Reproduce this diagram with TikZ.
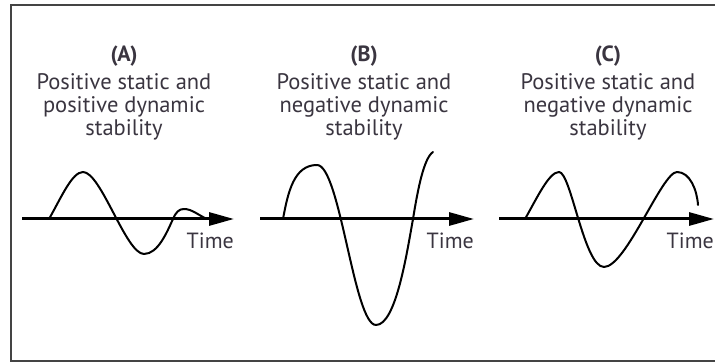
\documentclass[tikz,border=0pt]{standalone}
\usepackage{fontspec}
\setmainfont{PT Sans}
\usetikzlibrary{arrows.meta}
\definecolor{txt}{HTML}{3A3540}
\definecolor{frame}{HTML}{444444}
\tikzset{
  axisline/.style={line width=3pt,-{Triangle[length=25pt,width=13pt]}},
  wave/.style={line width=2pt,line cap=round,line join=round},
  desc/.style={anchor=north,align=center,inner sep=0pt,text=txt,font=\fontsize{22.5}{23}\selectfont},
  tag/.style={anchor=base,inner sep=0pt,text=txt,font=\fontsize{22}{23}\selectfont\bfseries},
  timelbl/.style={anchor=base east,inner sep=0pt,text=txt,font=\fontsize{22}{23}\selectfont}
}
\begin{document}
\begin{tikzpicture}[x=1pt,y=-1pt]
\useasboundingbox (0,0) rectangle (715,363);
\clip (0,0) rectangle (715,363);
\draw[frame,line width=2pt] (720,5) -- (11,5) -- (11,361) -- (720,361);

% Panel A
\node[tag] (tA) at (124,62) {(A)};
\node[desc] (dA) at (124,73) {Positive static and\\positive dynamic\\stability};
\coordinate (a0) at (22,219);
\coordinate (a1) at (234,219);
\draw[axisline] (a0) -- (a1);
\node[timelbl] (timeA) at (234,249) {Time};
\draw[wave] (49,219) .. controls (61,198) and (72,172) .. (83,172)
  .. controls (101,172) and (126,254) .. (144,254)
  .. controls (158,254) and (167,232) .. (173,219)
  .. controls (176,212) and (179,209) .. (184,209)
  .. controls (192,209) and (198,215) .. (207,219);

% Panel B
\node[tag] (tB) at (364,62) {(B)};
\node[desc] (dB) at (364,73) {Positive static and\\negative dynamic\\stability};
\coordinate (b0) at (260,219);
\coordinate (b1) at (474,219);
\draw[axisline] (b0) -- (b1);
\node[timelbl] (timeB) at (474,249) {Time};
\draw[wave] (283,219) .. controls (288,192) and (294,165) .. (317,165)
  .. controls (340,165) and (354,325) .. (376,325)
  .. controls (396,325) and (407,252) .. (413,219)
  .. controls (418,188) and (424,158) .. (433,152);

% Panel C
\node[tag] (tC) at (608,62) {(C)};
\node[desc] (dC) at (608,73) {Positive static and\\negative dynamic\\stability};
\coordinate (c0) at (499,219);
\coordinate (c1) at (714,219);
\draw[axisline] (c0) -- (c1);
\node[timelbl] (timeC) at (714,249) {Time};
\draw[wave] (525,219) .. controls (537,198) and (549,172) .. (559,172)
  .. controls (571,172) and (584,267) .. (604,267)
  .. controls (626,267) and (662,172) .. (677,172)
  .. controls (690,172) and (697,190) .. (698,205);
\end{tikzpicture}
\end{document}
